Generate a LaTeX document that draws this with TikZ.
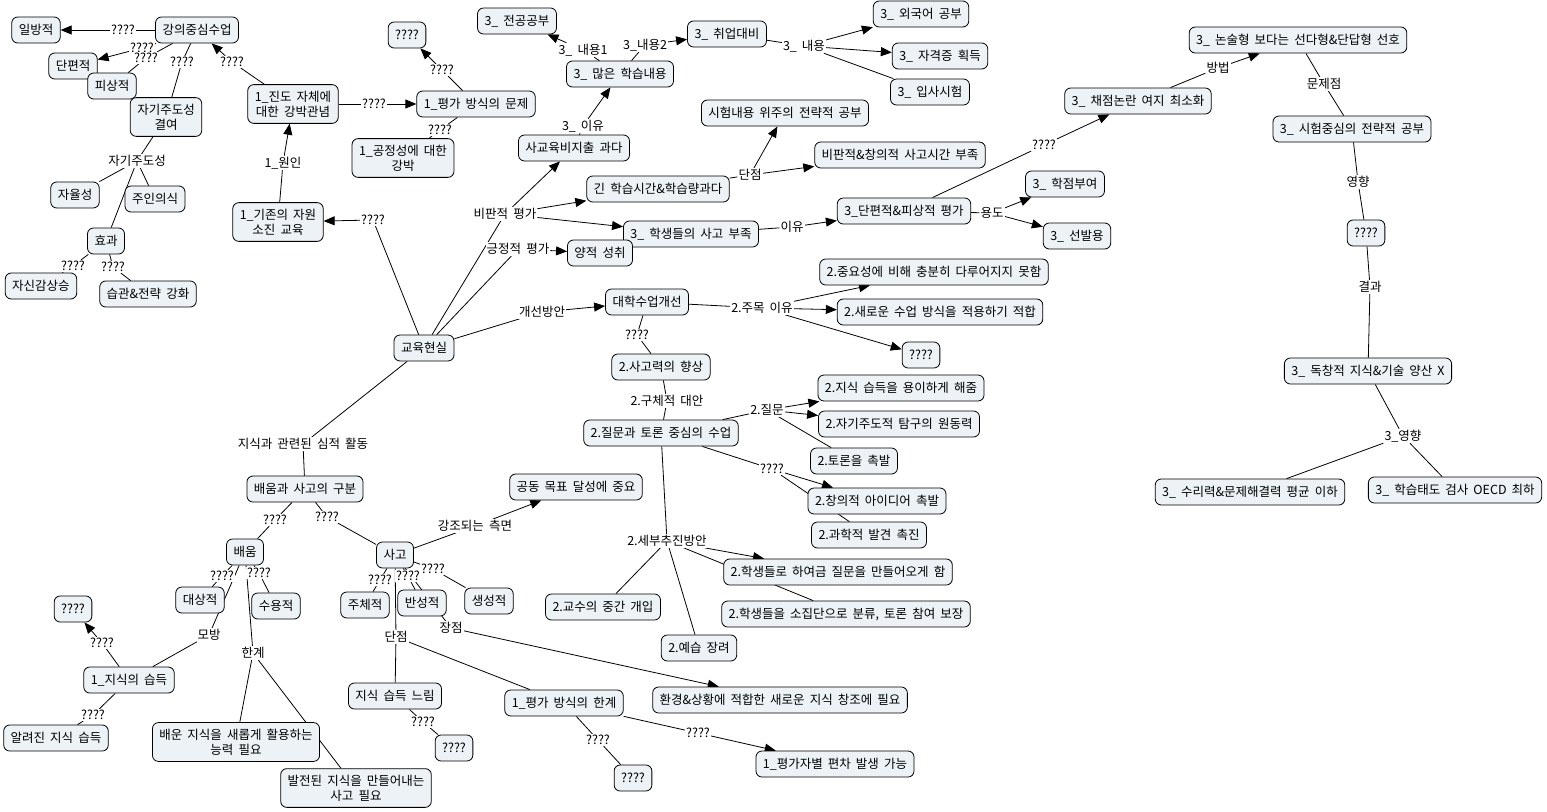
\documentclass[tikz,border=0pt]{standalone}
\usepackage{fontspec}
\setmainfont{Noto Sans CJK KR}[WordSpace=1.8]
\usetikzlibrary{arrows.meta}
\pgfdeclarelayer{bg}
\pgfsetlayers{bg,main}
\definecolor{boxfill}{RGB}{236,242,245}
\tikzset{
  cbox/.style={draw=black, line width=0.8pt, fill=boxfill, rounded corners=6pt, inner xsep=7pt, inner ysep=6.2pt, minimum height=26pt, align=center, font=\fontsize{12.5}{15}\selectfont},
  lab/.style={fill=white, inner sep=1pt, font=\fontsize{12.5}{15}\selectfont},
  ln/.style={draw=black, line width=0.8pt},
  ar/.style={ln, -{Triangle[length=11pt,width=9pt]}},
}
\begin{document}
\begin{tikzpicture}[x=1pt,y=-1pt]
\begin{pgfonlayer}{bg}
\fill[white] (0,0) rectangle (1547,811);
\end{pgfonlayer}
\useasboundingbox (0,0) rectangle (1547,811);
% boxes
\node[cbox] (n1) at (36,30) {일방적};
\node[cbox] (n2) at (197,30) {강의중심수업};
\node[cbox] (n3) at (73,66) {단편적};
\node[cbox] (n4) at (112,86) {피상적};
\node[cbox] (n5) at (166,117) {자기주도성\\결여};
\node[cbox] (n6) at (75,195) {자율성};
\node[cbox] (n7) at (155,199) {주인의식};
\node[cbox] (n8) at (106,241) {효과};
\node[cbox] (n9) at (41,286) {자신감상승};
\node[cbox] (n10) at (148,294) {습관\&전략 강화};
\node[cbox] (n11) at (293,104) {1\_진도 자체에\\대한 강박관념};
\node[cbox] (n12) at (278,222) {1\_기존의 자원\\소진 교육};
\node[cbox] (n13) at (407,35) {????};
\node[cbox] (n14) at (476,104) {1\_평가 방식의 문제};
\node[cbox] (n15) at (403,158) {1\_공정성에 대한\\강박};
\node[cbox] (n16) at (517,21) {3\_ 전공공부};
\node[cbox] (n17) at (620,74) {3\_ 많은 학습내용};
\node[cbox] (n18) at (727,34) {3\_ 취업대비};
\node[cbox] (n19) at (921,14) {3\_ 외국어 공부};
\node[cbox] (n20) at (940,56) {3\_ 자격증 획득};
\node[cbox] (n21) at (930,92) {3\_ 입사시험};
\node[cbox] (n22) at (785,113) {시험내용 위주의 전략적 공부};
\node[cbox] (n23) at (900,155) {비판적\&창의적 사고시간 부족};
\node[cbox] (n24) at (574,148) {사교육비지출 과다};
\node[cbox] (n25) at (658,189) {긴 학습시간\&학습량과다};
\node[cbox] (n26) at (691,234) {3\_ 학생들의 사고 부족};
\node[cbox] (n27) at (600,253) {양적 성취};
\node[cbox] (n28) at (904,211) {3\_단편적\&피상적 평가};
\node[cbox] (n29) at (1065,184) {3\_ 학점부여};
\node[cbox] (n30) at (1077,236) {3\_ 선발용};
\node[cbox] (n31) at (1138,101) {3\_ 채점논란 여지 최소화};
\node[cbox] (n32) at (1298,40) {3\_ 논술형 보다는 선다형\&단답형 선호};
\node[cbox] (n33) at (1352,129) {3\_ 시험중심의 전략적 공부};
\node[cbox] (n34) at (1366,233) {????};
\node[cbox] (n35) at (1368,371) {3\_ 독창적 지식\&기술 양산 X};
\node[cbox] (n36) at (1250,492) {3\_ 수리력\&문제해결력 평균 이하};
\node[cbox] (n37) at (1455,490) {3\_ 학습태도 검사 OECD 최하};
\node[cbox] (n38) at (424,348) {교육현실};
\node[cbox] (n39) at (647,302) {대학수업개선};
\node[cbox] (n40) at (934,272) {2.중요성에 비해 충분히 다루어지지 못함};
\node[cbox] (n41) at (940,312) {2.새로운 수업 방식을 적용하기 적합};
\node[cbox] (n42) at (921,355) {????};
\node[cbox] (n43) at (661,367) {2.사고력의 향상};
\node[cbox] (n44) at (901,388) {2.지식 습득을 용이하게 해줌};
\node[cbox] (n45) at (899,424) {2.자기주도적 탐구의 원동력};
\node[cbox] (n46) at (661,433) {2.질문과 토론 중심의 수업};
\node[cbox] (n47) at (854,461) {2.토론을 촉발};
\node[cbox] (n48) at (877,501) {2.창의적 아이디어 촉발};
\node[cbox] (n49) at (869,535) {2.과학적 발견 촉진};
\node[cbox] (n50) at (838,572) {2.학생들로 하여금 질문을 만들어오게 함};
\node[cbox] (n51) at (846,614) {2.학생들을 소집단으로 분류, 토론 참여 보장};
\node[cbox] (n52) at (603,607) {2.교수의 중간 개입};
\node[cbox] (n53) at (699,648) {2.예습 장려};
\node[cbox] (n54) at (576,487) {공동 목표 달성에 중요};
\node[cbox] (n55) at (780,700) {환경\&상황에 적합한 새로운 지식 창조에 필요};
\node[cbox] (n56) at (564,703) {1\_평가 방식의 한계};
\node[cbox] (n57) at (835,764) {1\_평가자별 편차 발생 가능};
\node[cbox] (n58) at (633,778) {????};
\node[cbox] (n59) at (305,489) {배움과 사고의 구분};
\node[cbox] (n60) at (245,552) {배움};
\node[cbox] (n61) at (395,555) {사고};
\node[cbox] (n62) at (200,600) {대상적};
\node[cbox] (n63) at (276,606) {수용적};
\node[cbox] (n64) at (365,605) {주체적};
\node[cbox] (n65) at (422,603) {반성적};
\node[cbox] (n66) at (489,601) {생성적};
\node[cbox] (n67) at (73,609) {????};
\node[cbox] (n68) at (129,680) {1\_지식의 습득};
\node[cbox] (n69) at (56,738) {알려진 지식 습득};
\node[cbox] (n70) at (236,742) {배운 지식을 새롭게 활용하는\\능력 필요};
\node[cbox] (n71) at (356,788) {발전된 지식을 만들어내는\\사고 필요};
\node[cbox] (n72) at (395,696) {지식 습득 느림};
\node[cbox] (n73) at (454,748) {????};
% linking phrases
\node[lab] (l1) at (123,30) {????};
\node[lab] (l2) at (142,48) {????};
\node[lab] (l3) at (146,58) {????};
\node[lab] (l4) at (182,62) {????};
\node[lab] (l5) at (232,62) {????};
\node[lab] (l6) at (137,161) {자기주도성};
\node[lab] (l7) at (73,266) {????};
\node[lab] (l8) at (113,267) {????};
\node[lab] (l9) at (283,163) {1\_원인};
\node[lab] (l10) at (373,220) {????};
\node[lab] (l11) at (374,104) {????};
\node[lab] (l12) at (442,70) {????};
\node[lab] (l13) at (440,130) {????};
\node[lab] (l14) at (583,50) {3\_ 내용1};
\node[lab] (l15) at (645,45) {3\_내용2};
\node[lab] (l16) at (804,46) {3\_ 내용};
\node[lab] (l17) at (583,126) {3\_ 이유};
\node[lab] (l18) at (750,175) {단점};
\node[lab] (l19) at (505,214) {비판적 평가};
\node[lab] (l20) at (518,249) {긍정적 평가};
\node[lab] (l21) at (792,227) {이유};
\node[lab] (l22) at (992,213) {용도};
\node[lab] (l23) at (1044,145) {????};
\node[lab] (l24) at (1218,68) {방법};
\node[lab] (l25) at (1324,84) {문제점};
\node[lab] (l26) at (1358,182) {영향};
\node[lab] (l27) at (1370,287) {결과};
\node[lab] (l28) at (1403,436) {3\_영향};
\node[lab] (l29) at (542,312) {개선방안};
\node[lab] (l30) at (762,308) {2.주목 이유};
\node[lab] (l31) at (637,335) {????};
\node[lab] (l32) at (667,401) {2.구체적 대안};
\node[lab] (l33) at (767,410) {2.질문};
\node[lab] (l34) at (772,469) {????};
\node[lab] (l35) at (667,541) {2.세부추진방안};
\node[lab] (l36) at (303,444) {지식과 관련된 심적 활동};
\node[lab] (l37) at (275,520) {????};
\node[lab] (l38) at (327,517) {????};
\node[lab] (l39) at (475,526) {강조되는 측면};
\node[lab] (l40) at (222,576) {????};
\node[lab] (l41) at (259,573) {????};
\node[lab] (l42) at (380,580) {????};
\node[lab] (l43) at (408,576) {????};
\node[lab] (l44) at (433,569) {????};
\node[lab] (l45) at (209,635) {모방};
\node[lab] (l46) at (102,643) {????};
\node[lab] (l47) at (253,653) {한계};
\node[lab] (l48) at (396,637) {단점};
\node[lab] (l49) at (451,628) {장점};
\node[lab] (l50) at (93,715) {????};
\node[lab] (l51) at (423,722) {????};
\node[lab] (l52) at (598,740) {????};
\node[lab] (l53) at (698,733) {????};
% connectors
\begin{pgfonlayer}{bg}
\draw[ln] (n2)--(l1); \draw[ar] (l1)--(n1);
\draw[ln] (n2)--(l2); \draw[ar] (l2)--(n3);
\draw[ln] (n2)--(l3); \draw[ln] (l3)--(n4);
\draw[ln] (n2)--(l4); \draw[ln] (l4)--(n5);
\draw[ln] (n11)--(l5); \draw[ar] (l5)--(n2);
\draw[ln] (n5)--(l6); \draw[ln] (l6)--(n6); \draw[ln] (l6)--(n7); \draw[ln] (l6)--(n8);
\draw[ln] (n8)--(l7); \draw[ln] (l7)--(n9);
\draw[ln] (n8)--(l8); \draw[ln] (l8)--(n10);
\draw[ln] (n12)--(l9); \draw[ar] (l9)--(n11);
\draw[ln] (n38)--(l10); \draw[ar] (l10)--(n12);
\draw[ln] (n11)--(l11); \draw[ar] (l11)--(n14);
\draw[ln] (n14)--(l12); \draw[ar] (l12)--(n13);
\draw[ln] (n14)--(l13); \draw[ln] (l13)--(n15);
\draw[ln] (n38)--(l19); \draw[ar] (l19)--(n24); \draw[ar] (l19)--(n25); \draw[ar] (l19)--(n26);
\draw[ln] (n38)--(l20); \draw[ar] (l20)--(n27);
\draw[ln] (n24)--(l17); \draw[ar] (l17)--(n17);
\draw[ln] (n17)--(l14); \draw[ar] (l14)--(n16);
\draw[ln] (n17)--(l15); \draw[ar] (l15)--(n18);
\draw[ln] (n18)--(l16); \draw[ar] (l16)--(n19); \draw[ar] (l16)--(n20); \draw[ln] (l16)--(n21);
\draw[ln] (n25)--(l18); \draw[ar] (l18)--(n22); \draw[ar] (l18)--(n23);
\draw[ln] (n26)--(l21); \draw[ar] (l21)--(n28);
\draw[ln] (n28)--(l22); \draw[ar] (l22)--(n29); \draw[ar] (l22)--(n30);
\draw[ln] (n28)--(l23); \draw[ar] (l23)--(n31);
\draw[ln] (n31)--(l24); \draw[ar] (l24)--(n32);
\draw[ln] (n32)--(l25); \draw[ln] (l25)--(n33);
\draw[ln] (n33)--(l26); \draw[ln] (l26)--(n34);
\draw[ln] (n34)--(l27); \draw[ln] (l27)--(n35);
\draw[ln] (n35)--(l28); \draw[ln] (l28)--(n36); \draw[ln] (l28)--(n37);
\draw[ln] (n38)--(l29); \draw[ar] (l29)--(n39);
\draw[ln] (n39)--(l30); \draw[ar] (l30)--(n40); \draw[ar] (l30)--(n41); \draw[ar] (l30)--(n42);
\draw[ln] (n39)--(l31); \draw[ln] (l31)--(n43);
\draw[ln] (n43)--(l32); \draw[ln] (l32)--(n46);
\draw[ln] (n46)--(l33); \draw[ar] (l33)--(n44); \draw[ar] (l33)--(n45); \draw[ln] (l33)--(n47);
\draw[ln] (n46)--(l34); \draw[ar] (l34)--(n48); \draw[ln] (l34)--(n49);
\draw[ln] (n46)--(l35); \draw[ar] (l35)--(n50); \draw[ln] (l35)--(n51); \draw[ln] (l35)--(n52); \draw[ln] (l35)--(n53);
\draw[ln] (n38)--(l36); \draw[ln] (l36)--(n59);
\draw[ln] (n59)--(l37); \draw[ln] (l37)--(n60);
\draw[ln] (n59)--(l38); \draw[ln] (l38)--(n61);
\draw[ln] (n61)--(l39); \draw[ar] (l39)--(n54);
\draw[ln] (n60)--(l40); \draw[ln] (l40)--(n62);
\draw[ln] (n60)--(l41); \draw[ln] (l41)--(n63);
\draw[ln] (n60)--(l45); \draw[ln] (l45)--(n68);
\draw[ln] (n68)--(l46); \draw[ar] (l46)--(n67);
\draw[ln] (n68)--(l50); \draw[ln] (l50)--(n69);
\draw[ln] (n60)--(l47); \draw[ln] (l47)--(n70); \draw[ln] (l47)--(n71);
\draw[ln] (n61)--(l42); \draw[ln] (l42)--(n64);
\draw[ln] (n61)--(l43); \draw[ln] (l43)--(n65);
\draw[ln] (n61)--(l44); \draw[ln] (l44)--(n66);
\draw[ln] (n61)--(l48); \draw[ln] (l48)--(n72); \draw[ln] (l48)--(n56);
\draw[ln] (n61)--(l49); \draw[ar] (l49)--(n55);
\draw[ln] (n72)--(l51); \draw[ln] (l51)--(n73);
\draw[ln] (n56)--(l52); \draw[ln] (l52)--(n58);
\draw[ln] (n56)--(l53); \draw[ar] (l53)--(n57);
\end{pgfonlayer}
\end{tikzpicture}
\end{document}
